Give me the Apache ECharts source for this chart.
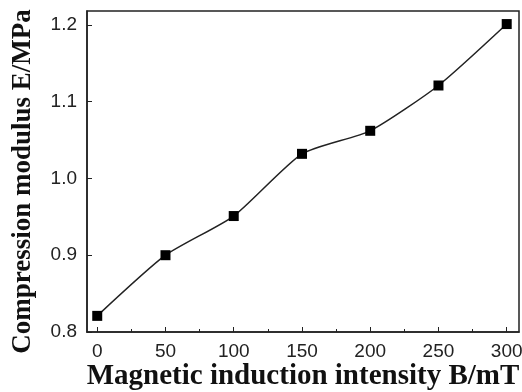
<!DOCTYPE html>
<html>
<head>
<meta charset="utf-8">
<script src="https://cdn.jsdelivr.net/npm/echarts@6/dist/echarts.min.js"></script>
<style>
html,body{margin:0;padding:0;background:#fff;}
#main{width:522px;height:392px;}
</style>
</head>
<body>
<div id="main"></div>
<script>
// 数据
var fieldB = [0, 50, 100, 150, 200, 250, 300];
var modulusE = [0.821, 0.90, 0.951, 1.032, 1.062, 1.121, 1.201];
var xTicks = [0, 50, 100, 150, 200, 250, 300];
var xMinorTicks = [25, 75, 125, 175, 225, 275];
var yTicks = [0.8, 0.9, 1.0, 1.1, 1.2];

window.onload = function () {
	var myChart = echarts.init(document.getElementById('main'));
	var points = fieldB.map(function (b, i) { return [b, modulusE[i]]; });
	var titleFont = {
		fontFamily: 'Liberation Serif',
		fontWeight: 'bold',
		color: '#111'
	};
	var option = {
		animation: false,
		backgroundColor: '#fff',
		grid: {
			left: 87,
			right: 3,
			top: 11,
			bottom: 60,
			outerBoundsMode: 'none',
			containLabel: false,
			show: true,
			borderColor: '#222',
			borderWidth: 1.5
		},
		xAxis: [{
			type: 'value',
			min: -7.5,
			max: 309,
			name: 'Magnetic induction intensity B/mT',
			nameLocation: 'middle',
			nameMoveOverlap: false,
			nameGap: 30,
			nameTextStyle: Object.assign({ fontSize: 29 }, titleFont),
			axisLine: { onZero: false, lineStyle: { color: '#222', width: 1.5 } },
			axisTick: { inside: true, length: 5, customValues: xTicks, lineStyle: { color: '#222' } },
			splitLine: { show: false },
			axisLabel: {
				fontFamily: 'Liberation Sans',
				fontSize: 19,
				color: '#222',
				margin: 10,
				customValues: xTicks
			}
		}, {
			// 次刻度
			type: 'value',
			position: 'bottom',
			min: -7.5,
			max: 309,
			axisLine: { show: false },
			axisTick: { inside: true, length: 3, customValues: xMinorTicks, lineStyle: { color: '#222' } },
			axisLabel: { show: false },
			splitLine: { show: false }
		}],
		yAxis: {
			type: 'value',
			min: 0.8,
			max: 1.218,
			name: 'Compression modulus E/MPa',
			nameLocation: 'middle',
			nameMoveOverlap: false,
			nameGap: 50,
			nameTextStyle: Object.assign({ fontSize: 27, padding: [0, 20, 0, 0] }, titleFont),
			axisLine: { onZero: false, lineStyle: { color: '#222', width: 1.5 } },
			axisTick: { inside: true, length: 5, customValues: yTicks, lineStyle: { color: '#222' } },
			splitLine: { show: false },
			axisLabel: {
				fontFamily: 'Liberation Sans',
				fontSize: 19,
				color: '#222',
				margin: 10,
				customValues: yTicks,
				formatter: function (v) { return v.toFixed(1); }
			}
		},
		series: [{
			type: 'line',
			data: points,
			smooth: 0.2,
			symbol: 'rect',
			symbolSize: 10,
			itemStyle: { color: '#000' },
			lineStyle: { color: '#222', width: 1.5 }
		}]
	};
	myChart.setOption(option);
};
</script>
</body>
</html>
